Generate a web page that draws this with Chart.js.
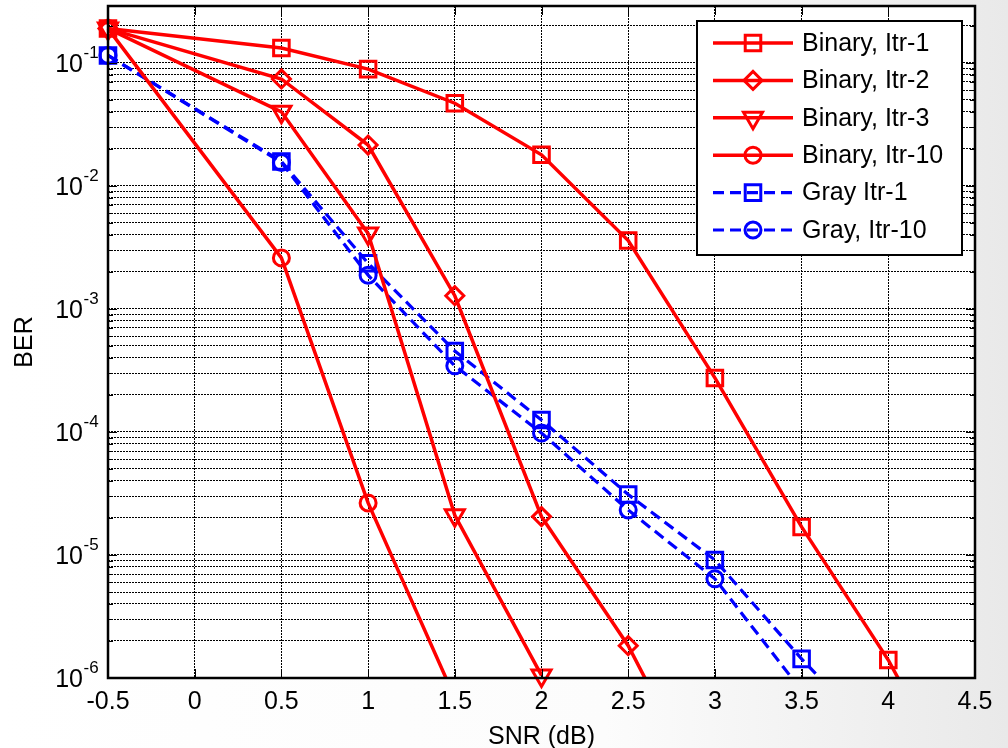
<!DOCTYPE html>
<html>
<head>
<meta charset="utf-8">
<title>BER vs SNR</title>
<script src="https://cdn.jsdelivr.net/npm/chart.js@4.4.1/dist/chart.umd.min.js"></script>
<style>
  html, body { margin: 0; padding: 0; }
  body {
    width: 1008px; height: 748px; overflow: hidden;
    background: linear-gradient(to right, #ffffff 0%, #fcfcfc 60%, #e9e9e9 100%);
  }
  #berChart { display: block; }
</style>
</head>
<body>
<canvas id="berChart" width="1008" height="748"></canvas>
<script>
// SNR points (dB) shared by every curve
const snr = [-0.5, 0.5, 1, 1.5, 2, 2.5, 3, 3.5, 4, 4.5];

// BER per curve (null = no point)
const binaryItr1 = [0.19, 0.132, 0.089, 0.047, 0.0179, 3.6e-3, 2.75e-4, 1.69e-5, 1.4e-6, 7e-8];
const binaryItr2 = [0.19, 0.074, 0.0215, 1.28e-3, 2.05e-5, 1.83e-6, 8e-8, null, null, null];
const binaryItr3 = [0.19, 0.040, 4.1e-3, 2.1e-5, 1.05e-6, null, null, null, null, null];
const binaryItr10 = [0.19, 2.6e-3, 2.65e-5, 6.9e-7, null, null, null, null, null, null];
const grayItr1 = [0.115, 0.0158, 2.35e-3, 4.55e-4, 1.25e-4, 3.1e-5, 9.1e-6, 1.43e-6, 2.6e-7, null];
const grayItr10 = [0.115, 0.0155, 1.88e-3, 3.45e-4, 9.8e-5, 2.32e-5, 6.4e-6, 7.9e-7, null, null];

// axis ticks
const xTicks = [-0.5, 0, 0.5, 1, 1.5, 2, 2.5, 3, 3.5, 4, 4.5];
const yExponents = [-6, -5, -4, -3, -2, -1];
const yMinorSteps = [2, 3, 4, 5, 6, 7, 8, 9];
const yMin = 1e-6;
const yMax = 0.29;

const RED = '#ff0000';
const BLUE = '#0000ff';
const FONT = '"Liberation Sans", Arial, Helvetica, sans-serif';

Chart.defaults.font.family = FONT;
Chart.defaults.color = '#000';

function toPoints(values) {
  return snr.map((x, i) => ({ x: x, y: values[i] }));
}

// all log ticks: 1..9 x 10^k inside the range
const yTickValues = [];
yExponents.forEach(e => {
  yTickValues.push(Math.pow(10, e));
  yMinorSteps.forEach(m => {
    const v = m * Math.pow(10, e);
    if (v <= yMax) yTickValues.push(v);
  });
});

// lines stop at the axes, markers at the edge stay whole
const edgeClip = { left: 14, top: 14, right: 0, bottom: 0 };

function series(label, values, color, style, radius, extra) {
  return Object.assign({
    label: label,
    data: toPoints(values),
    borderColor: color,
    borderWidth: 3.5,
    pointStyle: style,
    pointRadius: radius,
    pointBorderColor: color,
    pointBackgroundColor: 'rgba(0,0,0,0)',
    pointBorderWidth: 3,
    pointRotation: 0,
    spanGaps: false,
    tension: 0,
    clip: edgeClip
  }, extra || {});
}

const datasets = [
  series('Binary, Itr-1', binaryItr1, RED, 'rect', 11),
  series('Binary, Itr-2', binaryItr2, RED, 'rectRot', 9),
  series('Binary, Itr-3', binaryItr3, RED, 'triangle', 11,
    { pointRotation: 180, clip: { left: 14, top: 14, right: 0, bottom: 14 } }),
  series('Binary, Itr-10', binaryItr10, RED, 'circle', 8),
  series('Gray Itr-1', grayItr1, BLUE, 'rect', 11, { borderWidth: 3.2, borderDash: [11, 6] }),
  series('Gray, Itr-10', grayItr10, BLUE, 'circle', 8, { borderWidth: 3.2, borderDash: [11, 6] })
];

// white plot background, box, inner ticks, y labels with exponents, legend
const matlabAxes = {
  id: 'matlabAxes',
  beforeDraw(chart) {
    const a = chart.chartArea;
    const ctx = chart.ctx;
    ctx.save();
    ctx.fillStyle = '#ffffff';
    ctx.fillRect(a.left, a.top, a.right - a.left, a.bottom - a.top);
    ctx.restore();
  },
  afterDatasetsDraw(chart) {
    const a = chart.chartArea;
    const ctx = chart.ctx;
    const xs = chart.scales.x;
    const ys = chart.scales.y;
    ctx.save();
    ctx.strokeStyle = '#000';
    ctx.lineWidth = 1;
    ctx.setLineDash([]);
    ctx.beginPath();
    xTicks.forEach(v => {
      const px = Math.round(xs.getPixelForValue(v)) + 0.5;
      ctx.moveTo(px, a.bottom); ctx.lineTo(px, a.bottom - 9);
      ctx.moveTo(px, a.top); ctx.lineTo(px, a.top + 9);
    });
    yTickValues.forEach(v => {
      const py = Math.round(ys.getPixelForValue(v)) + 0.5;
      const len = yExponents.some(e => Math.abs(Math.pow(10, e) - v) < v * 1e-9) ? 9 : 5;
      ctx.moveTo(a.left, py); ctx.lineTo(a.left + len, py);
      ctx.moveTo(a.right, py); ctx.lineTo(a.right - len, py);
    });
    ctx.stroke();

    ctx.lineWidth = 2.5;
    ctx.strokeRect(a.left, a.top, a.right - a.left, a.bottom - a.top);

    // y tick labels: 10 with a raised exponent
    ctx.fillStyle = '#000';
    yExponents.forEach(e => {
      const py = ys.getPixelForValue(Math.pow(10, e));
      ctx.font = '25px ' + FONT;
      ctx.textAlign = 'right';
      ctx.textBaseline = 'middle';
      ctx.fillText('10', a.left - 25, py + 2);
      ctx.font = '17px ' + FONT;
      ctx.textAlign = 'left';
      ctx.fillText(String(e), a.left - 24.5, py - 10);
    });

    // legend box
    const bx = a.right - 278, by = a.top + 15, bw = 265, bh = 234;
    ctx.fillStyle = '#ffffff';
    ctx.fillRect(bx, by, bw, bh);
    ctx.lineWidth = 2;
    ctx.strokeStyle = '#000';
    ctx.strokeRect(bx, by, bw, bh);
    chart.data.datasets.forEach((ds, i) => {
      const rowY = by + 22 + i * 37.4;
      const x0 = bx + 16, x1 = bx + 96, xm = (x0 + x1) / 2;
      ctx.strokeStyle = ds.borderColor;
      ctx.lineWidth = ds.borderWidth;
      ctx.setLineDash(ds.borderDash || []);
      ctx.beginPath();
      ctx.moveTo(x0, rowY); ctx.lineTo(x1, rowY);
      ctx.stroke();
      ctx.setLineDash([]);
      ctx.fillStyle = 'rgba(0,0,0,0)';
      ctx.lineWidth = ds.pointBorderWidth;
      Chart.helpers.drawPoint(ctx, {
        pointStyle: ds.pointStyle,
        rotation: ds.pointRotation,
        radius: ds.pointRadius,
        borderWidth: ds.pointBorderWidth
      }, xm, rowY);
      ctx.fillStyle = '#000';
      ctx.font = '25px ' + FONT;
      ctx.textAlign = 'left';
      ctx.textBaseline = 'middle';
      ctx.fillText(ds.label, bx + 105, rowY + 1);
    });
    ctx.restore();
  }
};

new Chart(document.getElementById('berChart'), {
  type: 'line',
  data: { datasets: datasets },
  options: {
    responsive: false,
    animation: false,
    devicePixelRatio: 1,
    layout: { autoPadding: false, padding: { left: 0, top: 6, right: 33, bottom: 0 } },
    plugins: { legend: { display: false }, tooltip: { enabled: false } },
    scales: {
      x: {
        type: 'linear',
        min: -0.5,
        max: 4.5,
        bounds: 'data',
        afterBuildTicks: axis => { axis.ticks = xTicks.map(v => ({ value: v })); },
        afterFit: axis => { axis.height = 70; },
        ticks: {
          autoSkip: false,
          maxRotation: 0,
          padding: 9,
          font: { size: 25 },
          color: '#000',
          callback: v => String(v)
        },
        grid: { color: '#000', lineWidth: 1, drawTicks: false },
        border: { display: false, dash: [2, 1] },
        title: {
          display: true,
          text: 'SNR (dB)',
          font: { size: 25, lineHeight: 0.9 },
          padding: { top: 0, bottom: 0 },
          color: '#000'
        }
      },
      y: {
        type: 'logarithmic',
        min: yMin,
        max: yMax,
        bounds: 'data',
        afterBuildTicks: axis => { axis.ticks = yTickValues.map(v => ({ value: v })); },
        afterFit: axis => { axis.width = 108; },
        ticks: { display: false },
        grid: { color: '#000', lineWidth: 1, drawTicks: false },
        border: { display: false, dash: [2, 1] },
        title: {
          display: true,
          text: 'BER',
          font: { size: 25 },
          padding: { top: 10, bottom: 0 },
          color: '#000'
        }
      }
    }
  },
  plugins: [matlabAxes]
});
</script>
</body>
</html>
